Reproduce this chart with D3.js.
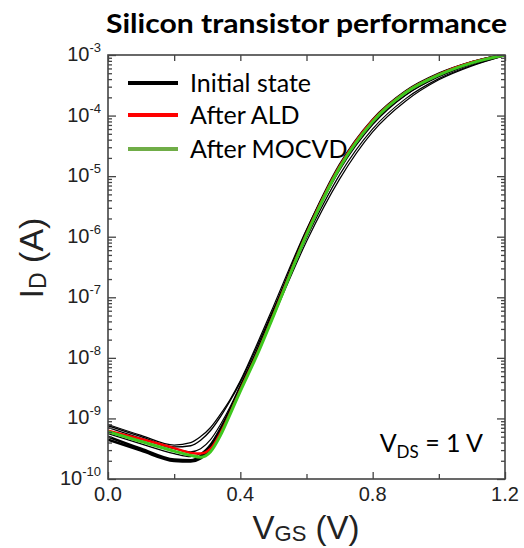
<!DOCTYPE html>
<html>
<head>
<meta charset="utf-8">
<script src="https://cdn.jsdelivr.net/npm/d3@7"></script>
<style>
  html, body { margin: 0; padding: 0; background: #fff; }
  svg { display: block; }
</style>
</head>
<body>
<div id="chart"></div>
<script>
// gate voltage grid shared by every curve (V)
var vgs = [0, 0.1, 0.2, 0.25, 0.28, 0.31, 0.34, 0.37, 0.4, 0.45, 0.5, 0.6, 0.7, 0.8, 0.9, 1.0, 1.1, 1.2];

// log10 of drain current (A)
var initialCurves = [
    [-9.30, -9.50, -9.68, -9.69, -9.62, -9.45, -9.18, -8.85, -8.50, -7.90, -7.25, -5.92, -4.82, -4.07, -3.60, -3.31, -3.12, -2.99],
    [-9.10, -9.28, -9.44, -9.40, -9.30, -9.15, -8.93, -8.68, -8.38, -7.78, -7.15, -5.88, -4.84, -4.12, -3.66, -3.36, -3.15, -3.00],
    [-9.15, -9.33, -9.50, -9.55, -9.50, -9.35, -9.10, -8.80, -8.45, -7.88, -7.26, -6.02, -4.98, -4.22, -3.72, -3.39, -3.17, -3.01],
    [-9.25, -9.42, -9.58, -9.63, -9.58, -9.42, -9.15, -8.84, -8.50, -7.95, -7.32, -6.08, -5.05, -4.27, -3.76, -3.41, -3.18, -3.01],
    [-9.12, -9.30, -9.47, -9.45, -9.36, -9.20, -8.97, -8.70, -8.40, -7.82, -7.20, -5.95, -4.90, -4.15, -3.66, -3.35, -3.14, -3.00],
    [-9.35, -9.53, -9.70, -9.71, -9.66, -9.50, -9.22, -8.88, -8.52, -7.93, -7.28, -5.95, -4.85, -4.09, -3.61, -3.32, -3.12, -2.99]
];
var initialWidths = [2.6, 1.2, 1.2, 1.2, 1.4, 2.6];
var afterALD = [-9.20, -9.34, -9.49, -9.57, -9.58, -9.50, -9.24, -8.90, -8.53, -7.94, -7.29, -5.95, -4.84, -4.08, -3.61, -3.32, -3.12, -3.00];
var afterMOCVD = [-9.22, -9.38, -9.54, -9.61, -9.64, -9.55, -9.28, -8.92, -8.55, -7.96, -7.31, -5.97, -4.86, -4.10, -3.62, -3.33, -3.13, -3.00];

var xMajor = [0, 0.4, 0.8, 1.2];
var xMinor = [0.2, 0.6, 1.0];
var yDecades = [-10, -9, -8, -7, -6, -5, -4, -3];
var legendNames = ['Initial state', 'After ALD', 'After MOCVD'];
var legendColors = ['#000000', '#ff0000', '#70ad47'];

var W = 524, H = 548;
var svg = d3.select('#chart').append('svg').attr('width', W).attr('height', H);

var x = d3.scaleLinear().domain([0, 1.2]).range([108, 505]);
var y = d3.scaleLog().domain([1e-10, 1e-3]).range([479, 55]);

// title
svg.append('text')
    .attr('x', 106).attr('y', 33)
    .attr('textLength', 401).attr('lengthAdjust', 'spacingAndGlyphs')
    .style('font-family', 'Lato, sans-serif')
    .style('font-weight', 'bold')
    .style('font-size', '27px')
    .text('Silicon transistor performance');

// curves
svg.append('clipPath').attr('id', 'plotclip')
    .append('rect').attr('x', 108).attr('y', 55).attr('width', 397).attr('height', 424);
var plot = svg.append('g').attr('clip-path', 'url(#plotclip)');

var line = d3.line()
    .x(function (d) { return x(d[0]); })
    .y(function (d) { return y(Math.pow(10, d[1])); })
    .curve(d3.curveMonotoneX);

function pts(arr) {
    return vgs.map(function (v, i) { return [v, arr[i]]; });
}

initialCurves.forEach(function (c, i) {
    plot.append('path')
        .attr('d', line(pts(c)))
        .attr('fill', 'none')
        .attr('stroke', '#000')
        .attr('stroke-width', initialWidths[i]);
});
plot.append('path').attr('d', line(pts(afterALD)))
    .attr('fill', 'none').attr('stroke', '#ff0000').attr('stroke-width', 2.4);
plot.append('path').attr('d', line(pts(afterMOCVD)))
    .attr('fill', 'none').attr('stroke', '#3ec81e').attr('stroke-width', 3);

// axes, ticks inward on all four sides
var axisColor = '#444';
var frame = svg.append('g');
function styleAxis(g) {
    g.select('.domain').remove();
    g.selectAll('line').attr('stroke', axisColor).attr('stroke-width', 1.3);
}
frame.append('g').attr('transform', 'translate(0,479)')
    .call(d3.axisBottom(x).tickValues(xMajor).tickSize(-7).tickFormat(''))
    .call(styleAxis);
frame.append('g').attr('transform', 'translate(0,479)')
    .call(d3.axisBottom(x).tickValues(xMinor).tickSize(-5).tickFormat(''))
    .call(styleAxis);
frame.append('g').attr('transform', 'translate(0,55)')
    .call(d3.axisTop(x).tickValues(xMajor.concat(xMinor)).tickSize(-6).tickFormat(''))
    .call(styleAxis);

var yMajorVals = yDecades.map(function (d) { return Math.pow(10, d); });
var yMinorVals = [];
yDecades.slice(0, -1).forEach(function (d) {
    for (var k = 2; k <= 9; k++) yMinorVals.push(k * Math.pow(10, d));
});
[[d3.axisLeft, 108], [d3.axisRight, 505]].forEach(function (a) {
    frame.append('g').attr('transform', 'translate(' + a[1] + ',0)')
        .call(a[0](y).tickValues(yMajorVals).tickSize(-8).tickFormat(''))
        .call(styleAxis);
    frame.append('g').attr('transform', 'translate(' + a[1] + ',0)')
        .call(a[0](y).tickValues(yMinorVals).tickSize(-4).tickFormat(''))
        .call(styleAxis);
});
frame.append('rect')
    .attr('x', 108).attr('y', 55).attr('width', 397).attr('height', 424)
    .attr('fill', 'none').attr('stroke', axisColor).attr('stroke-width', 1.6);

// tick labels
var labelFont = '"Liberation Sans", Arial, sans-serif';
svg.append('g').selectAll('text').data(xMajor).join('text')
    .attr('x', function (d) { return x(d); })
    .attr('y', 501)
    .attr('text-anchor', 'middle')
    .style('font-family', labelFont).style('font-size', '20px').attr('fill', '#222')
    .text(function (d) { return d.toFixed(1); });

var yl = svg.append('g').selectAll('text').data(yDecades).join('text')
    .attr('x', 101)
    .attr('y', function (d) { return y(Math.pow(10, d)) + 6; })
    .attr('text-anchor', 'end')
    .style('font-family', labelFont).attr('fill', '#222');
yl.append('tspan').style('font-size', '20px').text('10');
yl.append('tspan').style('font-size', '13px').attr('dy', -9)
    .text(function (d) { return '-' + Math.abs(d); });

// axis titles
var xt = svg.append('text')
    .attr('x', 306).attr('y', 539).attr('text-anchor', 'middle')
    .style('font-family', labelFont).attr('fill', '#222');
xt.append('tspan').style('font-size', '33px').text('V');
xt.append('tspan').style('font-size', '22px').attr('dy', 2).text('GS');
xt.append('tspan').style('font-size', '33px').attr('dy', -2).text(' (V)');

var yt = svg.append('text')
    .attr('transform', 'translate(43,258) rotate(-90)').attr('text-anchor', 'middle')
    .style('font-family', labelFont).attr('fill', '#222');
yt.append('tspan').style('font-size', '34px').text('I');
yt.append('tspan').style('font-size', '23px').attr('dy', 3).text('D');
yt.append('tspan').style('font-size', '34px').attr('dy', -3).text(' (A)');

// V_DS note
var vds = svg.append('text')
    .attr('x', 483).attr('y', 452).attr('text-anchor', 'end')
    .style('font-family', 'Lato, sans-serif').attr('fill', '#000');
vds.append('tspan').style('font-size', '25px').text('V');
vds.append('tspan').style('font-size', '17px').attr('dy', 6).text('DS');
vds.append('tspan').style('font-size', '25px').attr('dy', -6).text(' = 1 V');

// legend
var leg = svg.append('g').selectAll('g').data(legendNames).join('g')
    .attr('transform', function (d, i) { return 'translate(128,' + [83, 115, 149][i] + ')'; });
leg.append('line')
    .attr('x1', 0).attr('x2', 50).attr('y1', 0).attr('y2', 0)
    .attr('stroke', function (d, i) { return legendColors[i]; })
    .attr('stroke-width', 4);
leg.append('text')
    .attr('x', 62).attr('y', 9)
    .style('font-family', 'Lato, sans-serif').style('font-size', '25px')
    .text(function (d) { return d; });
</script>
</body>
</html>
